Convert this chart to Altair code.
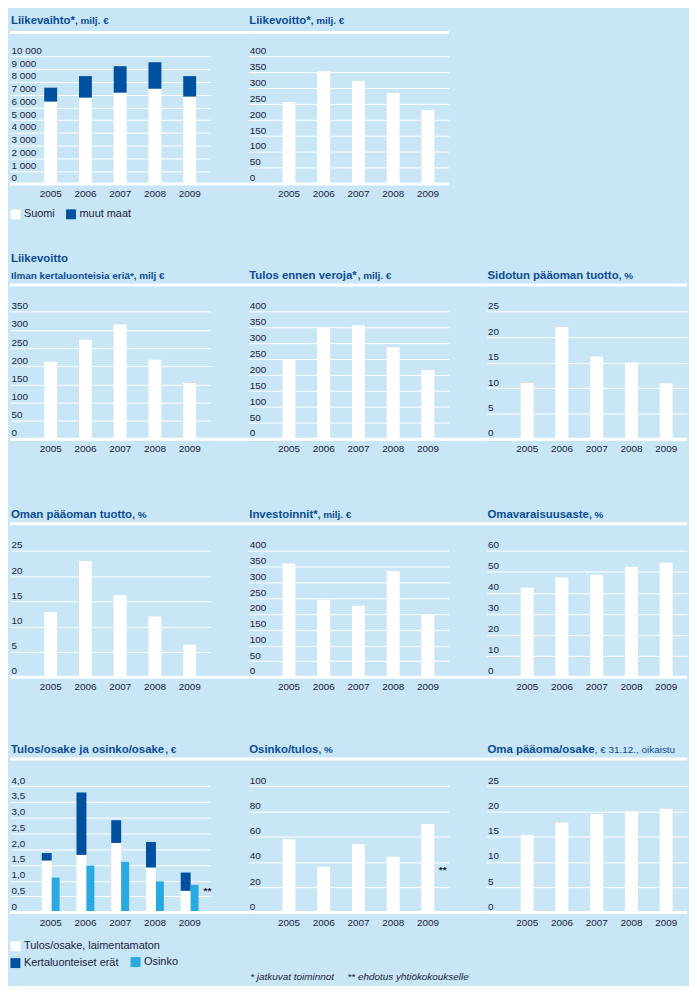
import altair as alt
import pandas as pd

# ---------------- data ----------------
years = ["2005", "2006", "2007", "2008", "2009"]

liikevaihto_suomi = [6460, 6770, 7160, 7470, 6850]
liikevaihto_muut_maat = [1090, 1690, 2080, 2080, 1610]
liikevoitto = [257, 354, 323, 285, 232]
liikevoitto_ilman_kertaluonteisia = [212, 273, 315, 218, 154]
tulos_ennen_veroja = [248, 349, 357, 288, 217]
sidotun_paaoman_tuotto = [11.0, 22.0, 16.2, 15.0, 10.9]
oman_paaoman_tuotto = [12.9, 23.0, 16.2, 12.0, 6.4]
investoinnit = [360, 245, 226, 336, 199]
omavaraisuusaste = [42.5, 47.3, 48.7, 52.5, 54.4]
tulos_osake = [1.64, 1.82, 2.20, 1.42, 0.68]
kertaluonteiset_erat = [0.24, 1.98, 0.72, 0.81, 0.58]
osinko_osake = [1.10, 1.48, 1.60, 0.98, 0.87]
osinko_tulos = [58, 36, 54, 44, 70]
oma_paaoma_osake = [15.3, 17.8, 19.5, 20.0, 20.5]

ticks_10000 = [0, 1000, 2000, 3000, 4000, 5000, 6000, 7000, 8000, 9000, 10000]
ticks_400 = [0, 50, 100, 150, 200, 250, 300, 350, 400]
ticks_350 = [0, 50, 100, 150, 200, 250, 300, 350]
ticks_25 = [0, 5, 10, 15, 20, 25]
ticks_60 = [0, 10, 20, 30, 40, 50, 60]
ticks_4 = [0, 0.5, 1.0, 1.5, 2.0, 2.5, 3.0, 3.5, 4.0]
ticks_100 = [0, 20, 40, 60, 80, 100]

legend_liikevaihto = ["Suomi", "muut maat"]
legend_tulos = ["Tulos/osake, laimentamaton", "Kertaluonteiset erät"]
legend_osinko = ["Osinko"]
footnotes = ["* jatkuvat toiminnot", "** ehdotus yhtiökokoukselle"]

# ---------------- style / layout ----------------
FONT = "Liberation Sans, Arial, sans-serif"
BG = "#c8e6f6"
TITLE = "#0c4c94"
DARK = "#0050a0"
LIGHT = "#2aa8e0"
TEXT = "#1c1c3c"

W, GAP = 202, 38
ROW_H = [245, 241, 237, 245]
RULE_Y = [21.2, 30.5, 30, 30]
TOP_Y = [45.3, 57.3, 57.3, 57.3]
BASE_Y = [173.4, 185.5, 184.3, 184.3]
TITLE_Y = [9, 20, 20.3, 20.3]
MAIN_SIZE, SUF_SIZE = 11.5, 10

_bw = {" ": 278, "*": 389, ",": 278, ".": 278, "/": 278, "%": 889, "€": 556,
       "I": 278, "L": 611, "O": 778, "S": 667, "T": 611,
       "a": 556, "d": 611, "e": 556, "i": 278, "j": 278, "k": 556, "l": 278,
       "m": 889, "n": 611, "o": 611, "p": 611, "r": 389, "s": 556, "t": 333,
       "u": 611, "v": 556, "h": 611, "ä": 556, "ö": 611}


def tw(s, size):
    return sum(_bw.get(ch, 556) for ch in s) * size / 1000.0


ONE = pd.DataFrame({"k": [0]})


def x_enc():
    return alt.X("year:N", sort=years, axis=None,
                 scale=alt.Scale(paddingInner=0, paddingOuter=0.386, align=0.87))


def y_enc(row, ticks, label_expr=None, stack=None):
    ax = dict(values=ticks, grid=True, gridColor="white", gridWidth=1, gridOpacity=1,
              domain=False, ticks=False, tickSize=0, labelAlign="left",
              labelBaseline="alphabetic", labelPadding=-1, labelOffset=-3,
              labelFont=FONT, labelFontSize=10, labelColor=TEXT,
              labelOverlap=False, title=None)
    if label_expr:
        ax["labelExpr"] = label_expr
    kw = dict(scale=alt.Scale(domain=[ticks[0], ticks[-1]],
                              range=[BASE_Y[row], TOP_Y[row]], nice=False, zero=True),
              axis=alt.Axis(**ax))
    if stack:
        kw["stack"] = stack
    return alt.Y("value:Q", **kw)


def text_layer(txt, x, y, size, weight="bold", color=TITLE, style="normal",
               baseline="alphabetic"):
    return alt.Chart(ONE).mark_text(
        align="left", baseline=baseline, font=FONT, fontSize=size,
        fontWeight=weight, fontStyle=style, color=color
    ).encode(x=alt.value(x), y=alt.value(y), text=alt.value(txt))


def rule_layer(y, x2):
    return alt.Chart(ONE).mark_rule(color="white", strokeWidth=3).encode(
        x=alt.value(0), x2=alt.value(x2), y=alt.value(y))


def title_layers(row, main, suffix, suffix_weight="bold"):
    y = TITLE_Y[row] + 4
    out = [text_layer(main, 1, y, MAIN_SIZE)]
    if suffix:
        out.append(text_layer(suffix, 1 + tw(main, MAIN_SIZE), y, SUF_SIZE,
                              weight=suffix_weight))
    return out


def year_labels(row):
    df = pd.DataFrame({"year": years})
    return alt.Chart(df).mark_text(
        font=FONT, fontSize=10, color=TEXT, baseline="middle", align="center"
    ).encode(x=x_enc(), y=alt.value(BASE_Y[row] + 10.4), text="year:N")


def frame(row, rule_len, layers, titles):
    return alt.layer(
        rule_layer(RULE_Y[row], rule_len), *layers, year_labels(row),
        rule_layer(BASE_Y[row] + 0.3, rule_len), *titles
    ).properties(width=W, height=ROW_H[row])


def simple_panel(row, values, ticks, main, suffix, rule_len, label_expr=None,
                 extra=(), suffix_weight="bold"):
    df = pd.DataFrame({"year": years, "value": values})
    bars = alt.Chart(df).mark_bar(width=13, color="white").encode(
        x=x_enc(), y=y_enc(row, ticks, label_expr))
    return frame(row, rule_len, [bars, *extra],
                 title_layers(row, main, suffix, suffix_weight))


def stars(row, dx, y):
    df = pd.DataFrame({"year": ["2009"], "t": ["**"]})
    return alt.Chart(df).mark_text(
        align="left", baseline="middle", dx=dx, font=FONT, fontSize=10,
        fontWeight="bold", color=TEXT
    ).encode(x=x_enc(), y=alt.value(y), text="t:N")


thousands = "replace(format(datum.value, ','), ',', ' ')"
decimal_comma = "datum.value == 0 ? '0' : replace(format(datum.value, '.1f'), '.', ',')"

# ---------------- row 1 ----------------
df_lv = pd.DataFrame({
    "year": years * 2,
    "part": [legend_liikevaihto[0]] * 5 + [legend_liikevaihto[1]] * 5,
    "ord": [0] * 5 + [1] * 5,
    "value": liikevaihto_suomi + liikevaihto_muut_maat,
})
lv_bars = alt.Chart(df_lv).mark_bar(width=13).encode(
    x=x_enc(),
    y=y_enc(0, ticks_10000, thousands, stack="zero"),
    color=alt.Color("part:N", sort=legend_liikevaihto,
                    scale=alt.Scale(domain=legend_liikevaihto, range=["white", DARK]),
                    legend=alt.Legend(orient="none", legendX=0, legendY=198.5,
                                      direction="horizontal", title=None,
                                      symbolType="square", symbolSize=100,
                                      symbolStrokeWidth=0, labelFont=FONT,
                                      labelFontSize=11, labelColor=TEXT,
                                      labelOffset=3, columnPadding=10, padding=0)),
    order=alt.Order("ord:Q", sort="ascending"),
)
p11 = frame(0, W + GAP, [lv_bars], title_layers(0, "Liikevaihto*", ", milj. €"))
p12 = simple_panel(0, liikevoitto, ticks_400, "Liikevoitto*", ", milj. €", W)
p13 = alt.Chart(ONE).mark_text().encode(text=alt.value("")).properties(
    width=W, height=ROW_H[0])

# ---------------- row 2 ----------------
df_lvi = pd.DataFrame({"year": years, "value": liikevoitto_ilman_kertaluonteisia})
lvi_bars = alt.Chart(df_lvi).mark_bar(width=13, color="white").encode(
    x=x_enc(), y=y_enc(1, ticks_350))
p21 = frame(1, W + GAP, [lvi_bars], [
    text_layer("Liikevoitto", 1, 3.7 + 4, MAIN_SIZE),
    text_layer("Ilman kertaluonteisia eriä*, milj €", 1, 21 + 3.5, SUF_SIZE),
])
p22 = simple_panel(1, tulos_ennen_veroja, ticks_400, "Tulos ennen veroja*", ", milj. €", W + GAP)
p23 = simple_panel(1, sidotun_paaoman_tuotto, ticks_25, "Sidotun pääoman tuotto", ", %", W)

# ---------------- row 3 ----------------
p31 = simple_panel(2, oman_paaoman_tuotto, ticks_25, "Oman pääoman tuotto", ", %", W + GAP)
p32 = simple_panel(2, investoinnit, ticks_400, "Investoinnit*", ", milj. €", W + GAP)
p33 = simple_panel(2, omavaraisuusaste, ticks_60, "Omavaraisuusaste", ", %", W)

# ---------------- row 4 ----------------
df_eps = pd.DataFrame({
    "year": years * 2,
    "part": [legend_tulos[0]] * 5 + [legend_tulos[1]] * 5,
    "ord": [0] * 5 + [1] * 5,
    "value": tulos_osake + kertaluonteiset_erat,
})
eps_bars = alt.Chart(df_eps).mark_bar(width=10, xOffset=-4).encode(
    x=x_enc(),
    y=y_enc(3, ticks_4, decimal_comma, stack="zero"),
    fill=alt.Fill("part:N", sort=legend_tulos,
                  scale=alt.Scale(domain=legend_tulos, range=["white", DARK]),
                  legend=alt.Legend(orient="none", legendX=0, legendY=213,
                                    direction="vertical", title=None,
                                    symbolType="square", symbolSize=100,
                                    symbolStrokeWidth=0, labelFont=FONT,
                                    labelFontSize=11, labelColor=TEXT,
                                    labelOffset=3, rowPadding=5, padding=0)),
    order=alt.Order("ord:Q", sort="ascending"),
)
df_div = pd.DataFrame({"year": years, "part2": legend_osinko * 5, "value": osinko_osake})
div_bars = alt.Chart(df_div).mark_bar(width=8, xOffset=5).encode(
    x=x_enc(),
    y=y_enc(3, ticks_4, decimal_comma),
    color=alt.Color("part2:N",
                    scale=alt.Scale(domain=legend_osinko, range=[LIGHT]),
                    legend=alt.Legend(orient="none", legendX=121, legendY=229,
                                      direction="vertical", title=None,
                                      symbolType="square", symbolSize=100,
                                      symbolStrokeWidth=0, labelFont=FONT,
                                      labelFontSize=11, labelColor=TEXT,
                                      labelOffset=3, padding=0)),
)
p41 = frame(3, W + GAP, [eps_bars, div_bars, stars(3, 14, 163)],
            title_layers(3, "Tulos/osake ja osinko/osake", ", €"))
p42 = simple_panel(3, osinko_tulos, ticks_100, "Osinko/tulos", ", %", W + GAP,
                   extra=[stars(3, 11, 141.7),
                          text_layer(footnotes[0], 2, 249 + 3.5, 10, weight="normal",
                                     color=TEXT, style="italic"),
                          text_layer(footnotes[1], 100, 249 + 3.5, 10, weight="normal",
                                     color=TEXT, style="italic")])
p43 = simple_panel(3, oma_paaoma_osake, ticks_25, "Oma pääoma/osake",
                   ", € 31.12., oikaistu", W, suffix_weight="normal")

chart = alt.concat(
    p11, p12, p13, p21, p22, p23, p31, p32, p33, p41, p42, p43,
    columns=3, spacing={"row": 0, "column": GAP}, bounds="flush",
).resolve_scale(
    color="independent", fill="independent"
).resolve_legend(
    color="independent", fill="independent"
).properties(background=BG, padding=0).configure_view(strokeWidth=0)

chart.save("out.html", embed_options={"renderer": "svg", "actions": False})
